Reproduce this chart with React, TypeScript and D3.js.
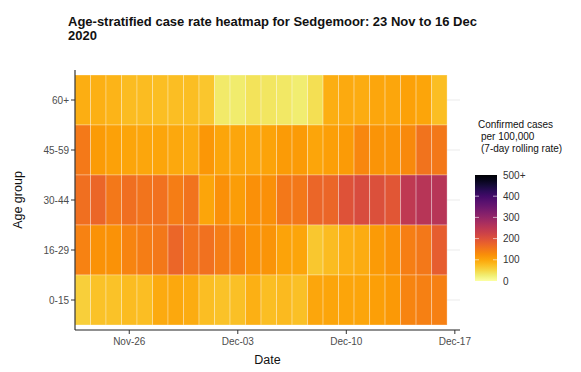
import * as d3 from "d3";

// age groups top to bottom
const ageGroups = ["60+", "45-59", "30-44", "16-29", "0-15"];

const dates = [
  "2020-11-23", "2020-11-24", "2020-11-25", "2020-11-26", "2020-11-27", "2020-11-28",
  "2020-11-29", "2020-11-30", "2020-12-01", "2020-12-02", "2020-12-03", "2020-12-04",
  "2020-12-05", "2020-12-06", "2020-12-07", "2020-12-08", "2020-12-09", "2020-12-10",
  "2020-12-11", "2020-12-12", "2020-12-13", "2020-12-14", "2020-12-15", "2020-12-16",
];

// 7-day rolling rate per 100,000
const rate60plus = [90, 88, 85, 78, 78, 75, 75, 75, 68, 30, 28, 38, 34, 33, 27, 42, 90, 95, 93, 98, 99, 105, 100, 75];
const rate45to59 = [148, 110, 105, 100, 99, 100, 96, 92, 115, 100, 99, 98, 102, 110, 110, 101, 106, 110, 132, 118, 118, 130, 155, 150];
const rate30to44 = [160, 170, 150, 160, 153, 158, 143, 156, 100, 122, 108, 123, 122, 150, 150, 170, 170, 198, 208, 203, 193, 245, 255, 255];
const rate16to29 = [138, 120, 121, 136, 144, 150, 170, 153, 158, 144, 136, 120, 118, 102, 100, 65, 78, 88, 92, 110, 120, 141, 150, 183];
const rate0to15 = [58, 72, 72, 78, 75, 95, 96, 93, 75, 72, 74, 88, 76, 80, 73, 98, 101, 100, 100, 107, 113, 136, 139, 139];

const legendTicks = [0, 100, 200, 300, 400, 500];

const seriesByAge: Record<string, number[]> = {
  "60+": rate60plus,
  "45-59": rate45to59,
  "30-44": rate30to44,
  "16-29": rate16to29,
  "0-15": rate0to15,
};

const FONT = "'Liberation Sans', Arial, sans-serif";

export default function App() {
  const parse = d3.timeParse("%Y-%m-%d");
  const dayList = dates.map((d) => parse(d)!);

  const cells = ageGroups.flatMap((age) =>
    seriesByAge[age].map((v, i) => ({ age, date: dayList[i], value: v }))
  );

  const panel = { left: 75, right: 460, top: 70, bottom: 330 };

  const x = d3
    .scaleTime()
    .domain([new Date(2020, 10, 22, 12), new Date(2020, 11, 17, 8)])
    .range([panel.left, panel.right]);

  const y = d3.scaleBand().domain(ageGroups).range([75, 325]);

  const color = d3.scaleSequential((t: number) => d3.interpolateInferno(1 - t)).domain([0, 500]).clamp(true);

  const half = 12 * 3600 * 1000;
  const xTicks = [new Date(2020, 10, 26), new Date(2020, 11, 3), new Date(2020, 11, 10), new Date(2020, 11, 17)];
  const fmt = d3.timeFormat("%b-%d");

  // legend colour bar
  const bar = { x: 475, w: 22, top: 175, bottom: 281 };
  const ly = d3.scaleLinear().domain([0, 500]).range([bar.bottom, bar.top]);
  const stops = d3.range(0, 1.0001, 0.05);

  return (
    <svg
      width={581}
      height={372}
      style={{ position: "absolute", left: 0, top: 0, background: "#fff" }}
      fontFamily={FONT}
    >
      <text x={68} y={26} fontSize={13} fontWeight="bold" fill="#111">
        Age-stratified case rate heatmap for Sedgemoor: 23 Nov to 16 Dec
      </text>
      <text x={68} y={40} fontSize={13} fontWeight="bold" fill="#111">
        2020
      </text>

      {/* grid lines */}
      {ageGroups.map((a) => (
        <line
          key={"g" + a}
          x1={panel.left}
          x2={panel.right}
          y1={y(a)! + y.bandwidth() / 2}
          y2={y(a)! + y.bandwidth() / 2}
          stroke="#ebebeb"
          strokeWidth={1.2}
        />
      ))}

      {/* tiles */}
      {cells.map((c, i) => {
        const x0 = x(new Date(c.date.getTime() - half));
        const x1 = x(new Date(c.date.getTime() + half));
        return (
          <rect
            key={i}
            x={x0}
            y={y(c.age)!}
            width={x1 - x0}
            height={y.bandwidth()}
            fill={color(c.value)}
            stroke="rgba(255,255,255,0.3)"
            strokeWidth={1}
          />
        );
      })}

      {/* axes */}
      <line x1={panel.left} x2={panel.left} y1={panel.top} y2={panel.bottom} stroke="#222" strokeWidth={1.1} />
      <line x1={panel.left} x2={panel.right} y1={panel.bottom} y2={panel.bottom} stroke="#222" strokeWidth={1.1} />

      {ageGroups.map((a) => {
        const cy = y(a)! + y.bandwidth() / 2;
        return (
          <g key={"y" + a}>
            <line x1={panel.left - 4} x2={panel.left} y1={cy} y2={cy} stroke="#333" />
            <text x={panel.left - 6} y={cy} dy="0.35em" textAnchor="end" fontSize={10} fill="#4d4d4d">
              {a}
            </text>
          </g>
        );
      })}

      {xTicks.map((t) => (
        <g key={"x" + t.getTime()}>
          <line x1={x(t)} x2={x(t)} y1={panel.bottom} y2={panel.bottom + 4} stroke="#333" />
          <text x={x(t)} y={345} textAnchor="middle" fontSize={10} fill="#4d4d4d">
            {fmt(t)}
          </text>
        </g>
      ))}

      <text x={(panel.left + panel.right) / 2} y={364} textAnchor="middle" fontSize={12.5} fill="#111">
        Date
      </text>
      <text
        transform={`translate(22,${(panel.top + panel.bottom) / 2}) rotate(-90)`}
        textAnchor="middle"
        fontSize={12.5}
        fill="#111"
      >
        Age group
      </text>

      {/* legend */}
      <defs>
        <linearGradient id="legendGrad" x1="0" x2="0" y1="1" y2="0">
          {stops.map((s) => (
            <stop key={s} offset={s} stopColor={color(s * 500)} />
          ))}
        </linearGradient>
      </defs>
      <g fontSize={10} fill="#111">
        <text x={478} y={128}>Confirmed cases</text>
        <text x={481} y={140}>per 100,000</text>
        <text x={481} y={152}>(7-day rolling rate)</text>
      </g>
      <rect x={bar.x} y={bar.top} width={bar.w} height={bar.bottom - bar.top} fill="url(#legendGrad)" />
      {legendTicks.slice(1, -1).map((t) => (
        <g key={"lt" + t}>
          <line x1={bar.x} x2={bar.x + 4} y1={ly(t)} y2={ly(t)} stroke="#fff" strokeOpacity={0.6} />
          <line x1={bar.x + bar.w - 4} x2={bar.x + bar.w} y1={ly(t)} y2={ly(t)} stroke="#fff" strokeOpacity={0.6} />
        </g>
      ))}
      {legendTicks.map((t) => (
        <text key={"ll" + t} x={503} y={ly(t)} dy="0.35em" fontSize={10} fill="#333">
          {t === 500 ? "500+" : String(t)}
        </text>
      ))}
    </svg>
  );
}
